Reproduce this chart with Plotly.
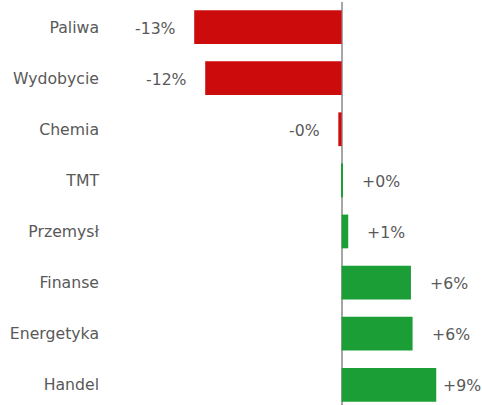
import plotly.graph_objects as go

categories = ["Paliwa", "Wydobycie", "Chemia", "TMT", "Przemysł", "Finanse", "Energetyka", "Handel"]
values = [-13.4, -12.4, -0.3, 0.1, 0.6, 6.3, 6.45, 8.6]
labels = ["-13%", "-12%", "-0%", "+0%", "+1%", "+6%", "+6%", "+9%"]

RED = "#CC0C0C"
GREEN = "#1A9E35"
colors = [RED if v < 0 else GREEN for v in values]
FONT = "DejaVu Sans, Verdana, sans-serif"
vmax = max(values)

fig = go.Figure()
fig.add_trace(go.Bar(
    y=categories, x=values, orientation="h",
    marker=dict(color=colors, line=dict(width=0)),
    width=0.66, hoverinfo="skip",
))

for c, v, t in zip(categories, values, labels):
    if v < 0:
        anchor, shift = "right", -16
    elif v == vmax:
        anchor, shift = "left", 5
    else:
        anchor, shift = "left", 17
    fig.add_annotation(
        x=v, y=c, xref="x", yref="y", text=t, showarrow=False,
        xanchor=anchor, xshift=shift, yshift=-1,
        font=dict(family=FONT, size=15.7, color="#595959"),
    )

fig.update_layout(
    width=482, height=405,
    margin=dict(l=104, r=0, t=2, b=0),
    paper_bgcolor="white", plot_bgcolor="white",
    showlegend=False,
    font=dict(family=FONT, size=15.7, color="#595959"),
    xaxis=dict(range=[-21.6, 12.76], showgrid=False, showticklabels=False,
               zeroline=True, zerolinecolor="#A6A6A6", zerolinewidth=2, ticks=""),
    yaxis=dict(categoryorder="array", categoryarray=categories,
               range=[7.396, -0.49], showgrid=False, zeroline=False, ticks="",
               ticklabelstandoff=4, automargin=False),
)

fig.write_html("out.html", config={"displayModeBar": False},
               post_script="document.body.style.margin='0';")
